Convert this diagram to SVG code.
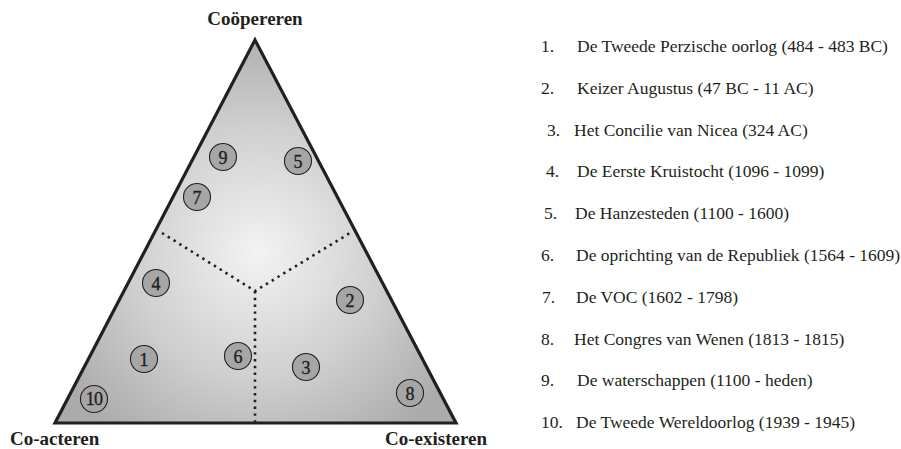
<svg xmlns="http://www.w3.org/2000/svg" width="901" height="449" viewBox="0 0 901 449">
<defs>
<radialGradient id="tri" gradientUnits="userSpaceOnUse" cx="258" cy="252" r="230">
<stop offset="0" stop-color="#f3f3f3"/>
<stop offset="0.55" stop-color="#cfcfd0"/>
<stop offset="1" stop-color="#ababab"/>
</radialGradient>
<style>
.lbl{font-family:"Liberation Serif",serif;font-weight:bold;font-size:19px;fill:#231f20}
.num{font-family:"Liberation Serif",serif;font-size:18px;fill:#231f20;stroke:#231f20;stroke-width:0.35;text-anchor:middle}
.dot{fill:#a6a6a6;stroke:#231f20;stroke-width:1.1}
.item{font-family:"Liberation Serif",serif;font-size:17.5px;fill:#231f20}
.div{fill:none;stroke:#231f20;stroke-width:2.6;stroke-dasharray:2.4 4.4}
</style>
</defs>
<rect width="901" height="449" fill="#ffffff"/>
<g id="triangle">
<polygon points="255,40 456,423 55,423" fill="url(#tri)" stroke="#231f20" stroke-width="3.2" stroke-linejoin="miter"/>
</g>
<g id="connectors">
<path class="div" d="M162,233 L255,291 L350,233"/>
<path class="div" d="M255,291 L255,422"/>
</g>
<g id="labels">
<text class="lbl" x="255" y="25" text-anchor="middle">Coöpereren</text>
<text class="lbl" x="10" y="445">Co-acteren</text>
<text class="lbl" x="385" y="445">Co-existeren</text>
</g>
<g id="node-1"><circle class="dot" cx="144" cy="359" r="13.5"/><text class="num" x="144" y="365.5">1</text></g>
<g id="node-2"><circle class="dot" cx="350" cy="300" r="13.5"/><text class="num" x="350" y="306.5">2</text></g>
<g id="node-3"><circle class="dot" cx="306" cy="367" r="13.5"/><text class="num" x="306" y="373.5">3</text></g>
<g id="node-4"><circle class="dot" cx="156" cy="283" r="13.5"/><text class="num" x="156" y="289.5">4</text></g>
<g id="node-5"><circle class="dot" cx="298" cy="161" r="13.5"/><text class="num" x="298" y="167.5">5</text></g>
<g id="node-6"><circle class="dot" cx="238" cy="356" r="13.5"/><text class="num" x="238" y="362.5">6</text></g>
<g id="node-7"><circle class="dot" cx="197" cy="197" r="13.5"/><text class="num" x="197" y="203.5">7</text></g>
<g id="node-8"><circle class="dot" cx="410" cy="393" r="13.5"/><text class="num" x="410" y="399.5">8</text></g>
<g id="node-9"><circle class="dot" cx="223" cy="157" r="13.5"/><text class="num" x="223" y="163.5">9</text></g>
<g id="node-10"><circle class="dot" cx="94" cy="399" r="13.5"/><text class="num" x="94" y="405" font-size="16.5" letter-spacing="-0.8">10</text></g>
<g id="legend">
<text class="item" x="541" y="52">1.</text><text class="item" x="577" y="52">De Tweede Perzische oorlog (484 - 483 BC)</text>
<text class="item" x="541" y="94">2.</text><text class="item" x="577" y="94">Keizer Augustus (47 BC - 11 AC)</text>
<text class="item" x="547" y="136">3.</text><text class="item" x="574" y="136">Het Concilie van Nicea (324 AC)</text>
<text class="item" x="546" y="177">4.</text><text class="item" x="577" y="177">De Eerste Kruistocht (1096 - 1099)</text>
<text class="item" x="544" y="219">5.</text><text class="item" x="575" y="219">De Hanzesteden (1100 - 1600)</text>
<text class="item" x="541" y="261">6.</text><text class="item" x="576" y="261">De oprichting van de Republiek (1564 - 1609)</text>
<text class="item" x="542" y="303">7.</text><text class="item" x="576" y="303">De VOC (1602 - 1798)</text>
<text class="item" x="541" y="345">8.</text><text class="item" x="574" y="345">Het Congres van Wenen (1813 - 1815)</text>
<text class="item" x="541" y="386">9.</text><text class="item" x="577" y="386">De waterschappen (1100 - heden)</text>
<text class="item" x="541" y="428">10.</text><text class="item" x="576" y="428">De Tweede Wereldoorlog (1939 - 1945)</text>
</g>
</svg>
